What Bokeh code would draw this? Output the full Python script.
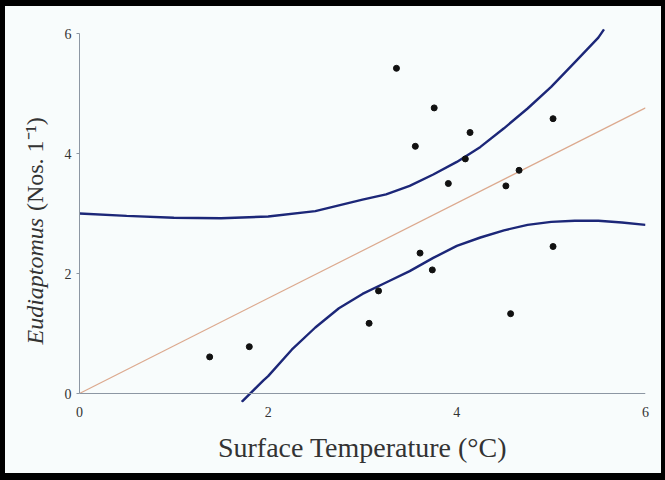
import numpy as np
from bokeh.plotting import figure
from bokeh.layouts import column, row
from bokeh.models import Range1d, FixedTicker, Span
from bokeh.core.properties import value
from bokeh.embed import file_html
from bokeh.resources import INLINE

# Observations: surface temperature (°C) vs Eudiaptomus (Nos. l^-1)
temp = [3.36, 3.76, 5.02, 4.14, 3.56, 4.09, 4.66, 3.91, 4.52,
        5.02, 3.61, 3.74, 3.17, 3.07, 4.57, 1.38, 1.80]
count = [5.42, 4.76, 4.58, 4.35, 4.12, 3.91, 3.72, 3.50, 3.46,
         2.45, 2.34, 2.06, 1.71, 1.17, 1.33, 0.61, 0.78]

# Regression line
fit_x = [0, 6]
fit_y = [0, 4.76]

# Upper confidence curve
upper_x = [0.0, 0.5, 1.0, 1.5, 2.0, 2.5, 3.0, 3.25, 3.5, 3.75, 4.0,
           4.25, 4.5, 4.75, 5.0, 5.25, 5.5, 5.56]
upper_y = [3.00, 2.96, 2.93, 2.92, 2.95, 3.04, 3.23, 3.32, 3.46, 3.65, 3.86,
           4.11, 4.42, 4.75, 5.11, 5.52, 5.93, 6.07]

# Lower confidence curve
lower_x = [1.72, 1.95, 2.0, 2.25, 2.5, 2.75, 3.0, 3.25, 3.5, 3.75, 4.0,
           4.25, 4.5, 4.75, 5.0, 5.25, 5.5, 5.75, 6.0]
lower_y = [-0.14, 0.22, 0.29, 0.73, 1.10, 1.42, 1.66, 1.85, 2.04, 2.26, 2.46,
           2.60, 2.72, 2.81, 2.86, 2.88, 2.88, 2.85, 2.81]

ticks = [0, 2, 4, 6]
x_title = "Surface Temperature (°C)"
y_title_genus = "Eudiaptomus"
y_title_units = "(Nos. 1⁻¹)"

bg = "#f8fcfc"
serif = "Liberation Serif"
axis_col = "#8d97a3"
text_col = "#333333"

# ---- main plot ----
p = figure(width=606, height=467, x_range=Range1d(0, 6), y_range=Range1d(-0.15, 6.1),
           output_backend="svg", toolbar_location=None,
           min_border_left=24, min_border_right=16, min_border_top=21, min_border_bottom=71,
           background_fill_color=bg, border_fill_color=bg, outline_line_color=None)

p.grid.visible = False
for ax in (p.xaxis, p.yaxis):
    ax.ticker = FixedTicker(ticks=ticks)
    ax.axis_line_color = axis_col
    ax.axis_line_width = 1
    ax.major_tick_line_color = axis_col
    ax.major_tick_out = 3
    ax.major_tick_in = 0
    ax.minor_tick_line_color = None
    ax.major_label_text_font = serif
    ax.major_label_text_font_size = "14px"
    ax.major_label_text_color = text_col
p.xaxis.axis_line_color = None
p.xaxis.major_tick_line_color = None
p.xaxis.major_label_standoff = 1
p.xaxis.axis_label = x_title
p.xaxis.axis_label_text_font = serif
p.xaxis.axis_label_text_font_size = "28px"
p.xaxis.axis_label_text_font_style = "normal"
p.xaxis.axis_label_text_color = text_col
p.xaxis.axis_label_standoff = 12
p.yaxis.major_label_standoff = 5
p.yaxis.bounds = (0, 6)

# x axis line at y = 0
p.add_layout(Span(location=0, dimension="width", line_color=axis_col, line_width=1))

p.line(fit_x, fit_y, line_color="#dca98e", line_width=1.2)
p.line(upper_x, upper_y, line_color="#1c2778", line_width=2.4)
p.line(lower_x, lower_y, line_color="#1c2778", line_width=2.4)
p.scatter(temp, count, size=6, fill_color="#111111", line_color="#111111")

# ---- narrow strip carrying the two-style y title ----
lab = figure(width=50, height=467, x_range=Range1d(0, 50),
             y_range=Range1d(-0.15 - 71 / 60, 6.1 + 21 / 60),
             x_axis_type=None, y_axis_type=None, min_border=0,
             output_backend="svg", toolbar_location=None,
             background_fill_color=bg, border_fill_color=bg, outline_line_color=None)
# genus ends just below the join, units start just above it
lab.text(x=[29], y=[2.50], text=[y_title_genus], angle=np.pi / 2,
         text_font=value(serif), text_font_size="24px", text_font_style="italic",
         text_color=text_col, text_align="right", text_baseline="middle")
lab.text(x=[29], y=[2.64], text=[y_title_units], angle=np.pi / 2,
         text_font=value(serif), text_font_size="24px", text_font_style="normal",
         text_color=text_col, text_align="left", text_baseline="middle")

inner = row(lab, p, width=656, height=467, margin=(6, 4, 7, 5),
            styles={"background-color": bg})
layout = column(inner, width=665, height=480, styles={"background-color": "black"})

open("out.html", "w").write(file_html(layout, INLINE))
